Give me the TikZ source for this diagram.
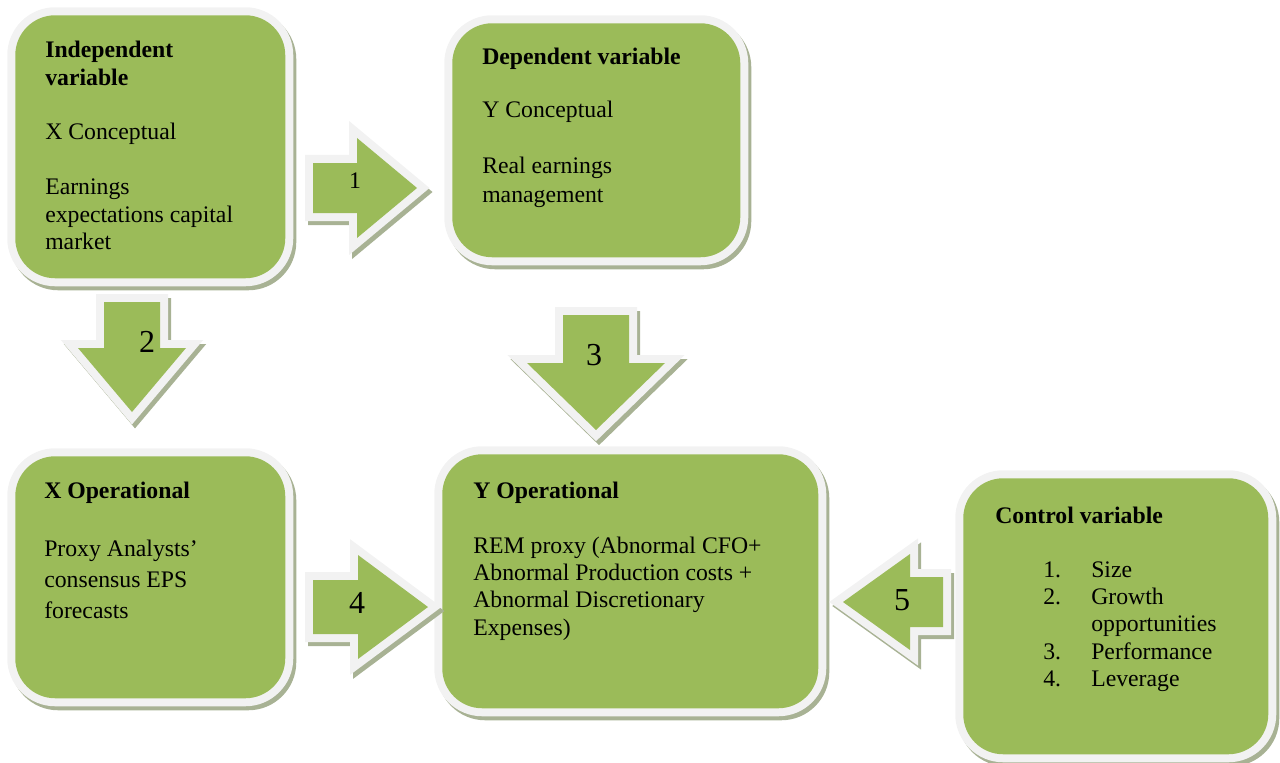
\documentclass[tikz,border=0pt]{standalone}
\usepackage{fontspec}
\setmainfont{Liberation Serif}
\definecolor{boxgreen}{HTML}{9BBB59}
\definecolor{bordergray}{HTML}{F2F2F2}
\definecolor{shadowc}{HTML}{A8B294}
\newcommand\boxlines[1]{\parbox[t]{300pt}{\raggedright #1}}
\tikzset{
  shad/.style={preaction={draw=shadowc, line width=12pt, line join=miter,
      transform canvas={shift={(2.25pt,-3pt)}}}},
  framebox/.style={shape=rectangle, rounded corners=30pt, fill=boxgreen,
      inner sep=0pt, anchor=north west, shad,
      preaction={draw=bordergray, line width=12pt}},
  blockarrow/.style={fill=boxgreen, line join=miter, shad,
      preaction={draw=bordergray, line width=12pt, line join=miter}},
  boxtext/.style={anchor=base west, inner sep=0pt,
      font=\fontsize{17.8pt}{20.6pt}\selectfont},
  headtext/.style={boxtext, font=\fontsize{17.8pt}{20.6pt}\selectfont\bfseries},
  smalllabel/.style={anchor=base, inner sep=0pt, font=\fontsize{17.8pt}{20.6pt}\selectfont},
  numlabel/.style={anchor=base, inner sep=0pt, font=\fontsize{24pt}{28pt}\selectfont},
}
\begin{document}
\begin{tikzpicture}[x=0.75pt,y=-0.75pt]
\useasboundingbox (0,0) rectangle (1280,763);

% boxes
\node[framebox, minimum width=202.5pt, minimum height=197.25pt] (indep) at (15,15) {};
\node[framebox, minimum width=216pt, minimum height=175.5pt] (dep) at (452,23) {};
\node[framebox, minimum width=202.5pt, minimum height=181.5pt] (xop) at (15,456) {};
\node[framebox, minimum width=282pt, minimum height=190.5pt] (yop) at (442,454) {};
\node[framebox, minimum width=228.75pt, minimum height=207pt] (ctrl) at (963,478) {};

% block arrows
\path[blockarrow] (313,163) -- (357,163) -- (357,138) -- (417,188) -- (357,238) -- (357,213) -- (313,213) -- cycle;
\path[blockarrow] (104,302) -- (160,302) -- (160,348) -- (186,348) -- (132,412) -- (78,348) -- (104,348) -- cycle;
\path[blockarrow] (563,315) -- (629,315) -- (629,363) -- (665,363) -- (596,430) -- (527,363) -- (563,363) -- cycle;
\path[blockarrow] (313,580) -- (358,580) -- (358,555) -- (428,607) -- (358,659) -- (358,634) -- (313,634) -- cycle;
\path[blockarrow] (943,577) -- (910,577) -- (910,554) -- (843,602) -- (910,650) -- (910,627) -- (943,627) -- cycle;

\node[smalllabel] (l1) at (355,188) {1};
\node[numlabel] (l2) at (147,352) {2};
\node[numlabel] (l3) at (594,365) {3};
\node[numlabel] (l4) at (357,613) {4};
\node[numlabel] (l5) at (902,610) {5};

% texts
\node[headtext] (t1a) at (45,58) {\boxlines{Independent\\ variable}};
\node[boxtext] (t1b) at (45,140) {X Conceptual};
\node[boxtext] (t1c) at (45,195) {\boxlines{Earnings\\ expectations capital\\ market}};

\node[headtext] (t2a) at (482,65) {Dependent variable};
\node[boxtext] (t2b) at (482,118) {Y Conceptual};
\node[boxtext, font=\fontsize{17.8pt}{21.75pt}\selectfont] (t2c) at (482,173) {\boxlines{Real earnings\\ management}};

\node[headtext] (t3a) at (44,498) {X Operational};
\node[boxtext, font=\fontsize{17.8pt}{23.25pt}\selectfont] (t3b) at (44,556) {\boxlines{Proxy Analysts’\\ consensus EPS\\ forecasts}};

\node[headtext] (t4a) at (473,498) {Y Operational};
\node[boxtext] (t4b) at (473,553) {\boxlines{REM proxy (Abnormal CFO+\\ Abnormal Production costs +\\ Abnormal Discretionary\\ Expenses)}};

\node[headtext] (t5a) at (995,523) {Control variable};
\node[boxtext] (t5b) at (1043,577) {\boxlines{\makebox[36pt][l]{1.}Size\\
  \makebox[36pt][l]{2.}Growth\\
  \makebox[36pt][l]{}opportunities\\
  \makebox[36pt][l]{3.}Performance\\
  \makebox[36pt][l]{4.}Leverage}};
\end{tikzpicture}
\end{document}
